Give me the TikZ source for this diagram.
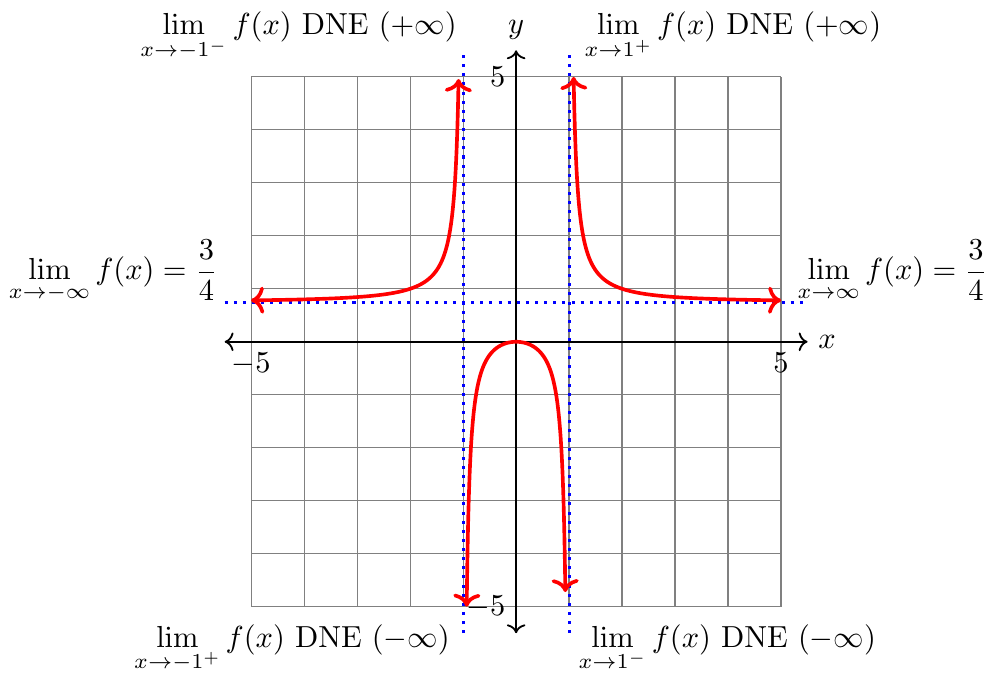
\documentclass[tikz,border=0pt]{standalone}
\usepackage{amsmath,amssymb}
\usepackage{tikz}
\usetikzlibrary{arrows.meta,positioning}

\begin{document}
\begin{tikzpicture}[
    x=0.612cm, y=0.612cm,
    gridline/.style={draw=gray, thin, step=0.612cm},
    axis/.style={<->, semithick},
    asym/.style={blue, line width=1pt, dotted},
    curve/.style={<->, red, very thick, samples=300},
    lim/.style={inner sep=3.33pt}
]
\useasboundingbox (-9.74,-6.25) rectangle (8.83,6.45);

% --- grid and axes ---
\draw[gridline] (-5,-5) grid (5,5);
\coordinate (xmin) at (-5.5,0);
\coordinate (xmax) at (5.5,0);
\coordinate (ymin) at (0,-5.5);
\coordinate (ymax) at (0,5.5);
\draw[axis] (xmin) -- (xmax);
\draw[axis] (ymin) -- (ymax);
\node[right] (xlab) at (xmax) {$x$};
\node[above] (ylab) at (ymax) {$y$};

% tick labels
\node[below] (xneg) at (-5,0) {$-5$};
\node[below] (xpos) at (5,0) {$5$};
\node[left] (ypos) at (0,5) {$5$};
\node[left] (yneg) at (0,-5) {$-5$};

% --- asymptotes ---
\draw[asym] (-1,-5.5) -- (-1,5.5);
\draw[asym] (1,-5.5) -- (1,5.5);
\draw[asym] (-5.5,0.75) -- (5.5,0.75);

% --- f(x) = 3x^2/(4(x^2-1)) ---
\draw[curve, domain=-5:-1.0847] plot (\x, {3*\x*\x/(4*(\x*\x-1))});
\draw[curve, domain=-0.9325:0.9325] plot (\x, {3*\x*\x/(4*(\x*\x-1))});
\draw[curve, domain=1.0847:5] plot (\x, {3*\x*\x/(4*(\x*\x-1))});

% --- limit labels ---
\node[lim, anchor=base east] (limtl) at (-0.92,5.79)
    {$\displaystyle\lim_{x\to -1^-} f(x)$ DNE $(+\infty)$};
\node[lim, anchor=base west] (limtr) at (1.09,5.79)
    {$\displaystyle\lim_{x\to 1^+} f(x)$ DNE $(+\infty)$};
\node[lim, anchor=base east] (limbl) at (-1.05,-5.77)
    {$\displaystyle\lim_{x\to -1^+} f(x)$ DNE $(-\infty)$};
\node[lim, anchor=base west] (limbr) at (0.975,-5.77)
    {$\displaystyle\lim_{x\to 1^-} f(x)$ DNE $(-\infty)$};
\node[lim, anchor=base east] (liml) at (-5.43,1.17)
    {$\displaystyle\lim_{x\to -\infty} f(x)=\frac{3}{4}$};
\node[lim, anchor=base west] (limr) at (5.11,1.17)
    {$\displaystyle\lim_{x\to \infty} f(x)=\frac{3}{4}$};

\end{tikzpicture}
\end{document}
